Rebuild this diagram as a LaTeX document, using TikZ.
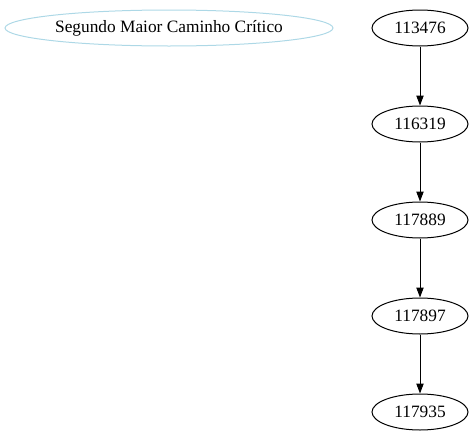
\documentclass[tikz,border=0pt]{standalone}
\usepackage{fontspec}
\setmainfont{Liberation Serif}
\usetikzlibrary{arrows.meta,shapes.geometric}
\definecolor{lightblue}{HTML}{ADD8E6}

\begin{document}
\begin{tikzpicture}[x=0.75pt,y=-0.75pt,>={Triangle[length=7.5pt,width=5.5pt]},
  task/.style={draw,ellipse,line width=0.75pt,inner sep=0pt,minimum width=72pt,minimum height=27pt,font=\fontsize{13}{15}\selectfont},
  title/.style={task,draw=lightblue,minimum width=246pt}]
\useasboundingbox (0,0) rectangle (475,443);
\node[title] (titulo) at (169,28) {Segundo Maior Caminho Crítico};
\node[task] (n1) at (420,28) {113476};
\node[task] (n2) at (420,124) {116319};
\node[task] (n3) at (420,220) {117889};
\node[task] (n4) at (420,316) {117897};
\node[task] (n5) at (420,412) {117935};
\draw[->,line width=0.75pt] (n1)--(n2);
\draw[->,line width=0.75pt] (n2)--(n3);
\draw[->,line width=0.75pt] (n3)--(n4);
\draw[->,line width=0.75pt] (n4)--(n5);
\end{tikzpicture}
\end{document}
